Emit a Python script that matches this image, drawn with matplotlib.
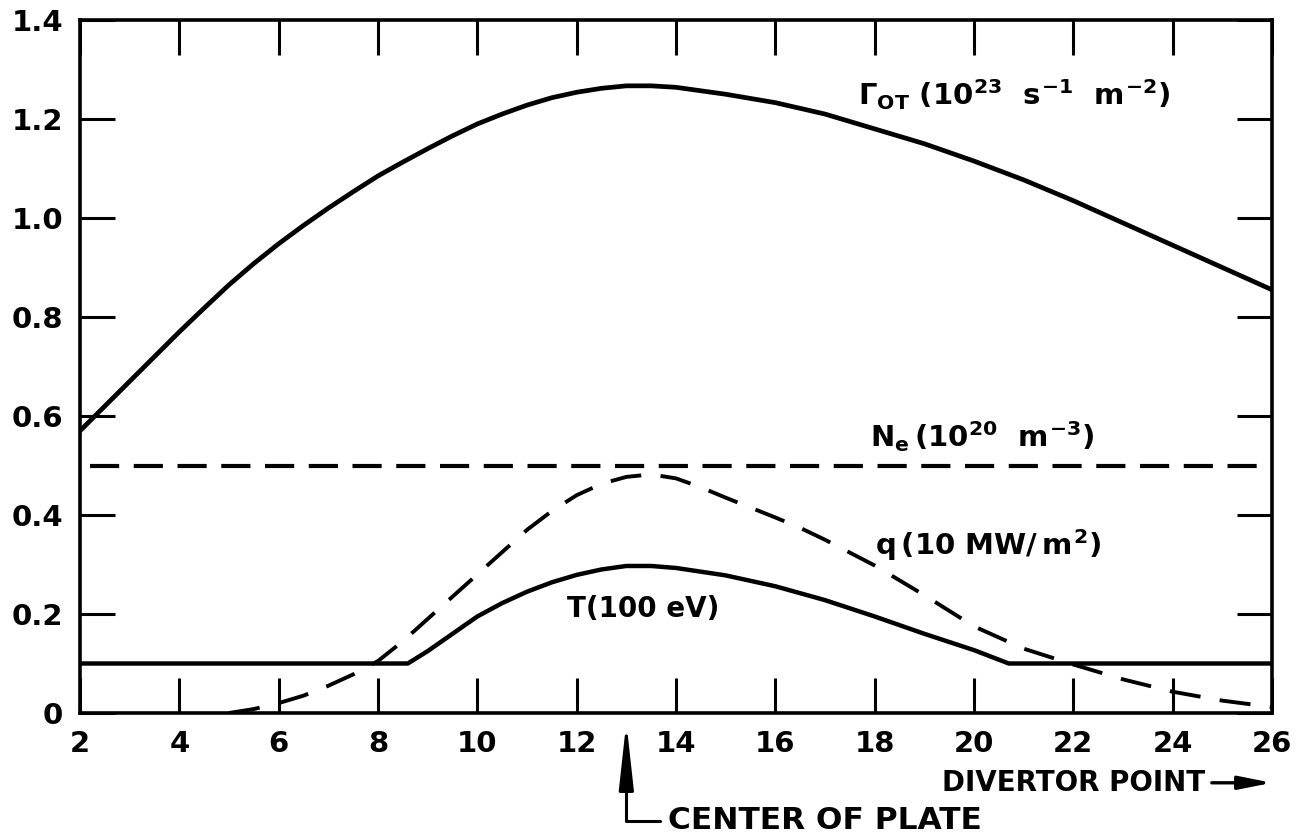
import matplotlib
matplotlib.use('Agg')
import matplotlib.pyplot as plt

# Donnees
x_gamma = [2, 2.5, 3, 3.5, 4, 4.5, 5, 5.5, 6, 6.5, 7, 7.5, 8, 8.5, 9, 9.5, 10, 10.5, 11, 11.5, 12,
           12.5, 13, 13.5, 14, 15, 16, 17, 18, 19, 20, 21, 22, 23, 24, 25, 26]
gamma = [0.57, 0.62, 0.67, 0.72, 0.77, 0.818, 0.865, 0.908, 0.948, 0.985, 1.02, 1.053, 1.085,
         1.113, 1.14, 1.166, 1.19, 1.21, 1.228, 1.243, 1.254, 1.262, 1.267, 1.267, 1.264, 1.25,
         1.233, 1.21, 1.18, 1.15, 1.115, 1.077, 1.035, 0.99, 0.945, 0.9, 0.855]

x_ne = [2.2, 26]
ne = [0.5, 0.5]

x_q = [5, 5.5, 6, 6.5, 7, 7.5, 8, 8.5, 9, 9.5, 10, 10.5, 11, 11.5, 12, 12.5, 13, 13.5, 14, 14.5,
       15, 16, 16.5, 17, 18, 19, 20, 21, 22, 23, 24, 25, 26]
q = [0.0, 0.008, 0.02, 0.035, 0.055, 0.078, 0.105, 0.145, 0.19, 0.235, 0.28, 0.325, 0.37, 0.408,
     0.44, 0.463, 0.477, 0.482, 0.474, 0.456, 0.435, 0.395, 0.374, 0.35, 0.298, 0.238, 0.175,
     0.13, 0.098, 0.068, 0.043, 0.025, 0.012]

x_t = [2, 8.6, 9, 9.5, 10, 10.5, 11, 11.5, 12, 12.5, 13, 13.5, 14, 15, 16, 17, 18, 19, 20, 20.7, 26]
t = [0.1, 0.1, 0.125, 0.16, 0.195, 0.222, 0.245, 0.264, 0.279, 0.29, 0.297, 0.297, 0.293, 0.278,
     0.256, 0.228, 0.195, 0.16, 0.127, 0.1, 0.1]

x_ticks = [2, 4, 6, 8, 10, 12, 14, 16, 18, 20, 22, 24, 26]
x_labels = ['2', '4', '6', '8', '10', '12', '14', '16', '18', '20', '22', '24', '26']
y_ticks = [0, 0.2, 0.4, 0.6, 0.8, 1.0, 1.2, 1.4]
y_labels = ['0', '0.2', '0.4', '0.6', '0.8', '1.0', '1.2', '1.4']

plt.rcParams['font.family'] = ['DejaVu Sans']
plt.rcParams['font.weight'] = 'bold'
plt.rcParams['mathtext.fontset'] = 'custom'
plt.rcParams['mathtext.rm'] = 'DejaVu Sans:bold'
plt.rcParams['mathtext.it'] = 'DejaVu Sans:bold'
plt.rcParams['mathtext.bf'] = 'DejaVu Sans:bold'

fig = plt.figure(figsize=(12.96, 8.34), dpi=100)
ax = fig.add_axes([80 / 1296, 121 / 834, 1192 / 1296, 693 / 834])

ax.plot(x_gamma, gamma, c='black', lw=3.4)
ax.plot(x_ne, ne, c='black', lw=3.0, dashes=(7, 3.5))
ax.plot(x_q, q, c='black', lw=2.8, dashes=(8, 5))
ax.plot(x_t, t, c='black', lw=3.2)

ax.set_xlim(2, 26)
ax.set_ylim(0, 1.4)
ax.set_xticks(x_ticks)
ax.set_xticklabels(x_labels)
ax.set_yticks(y_ticks)
ax.set_yticklabels(y_labels)
ax.tick_params(direction='in', length=25, width=2.2, top=True, right=True,
               labelsize=21, pad=12)
for s in ax.spines.values():
    s.set_linewidth(2.6)

# Intitules des courbes
ax.text(17.66, 1.228, r'$\Gamma_{OT}\ (10^{23}\ \ s^{-1}\ \ m^{-2})$', fontsize=21, va='baseline')
ax.text(17.9, 0.537, r'$N_e\,(10^{20}\ \ m^{-3})$', fontsize=21, va='baseline')
ax.text(18.0, 0.319, r'$q\,(10\ MW/\,m^2)$', fontsize=21, va='baseline')
ax.text(11.8, 0.194, 'T(100 eV)', fontsize=20, va='baseline')

# Fleches sous l'axe
ax.annotate('CENTER OF PLATE', xy=(13, -0.018), xytext=(13.84, -0.218),
            fontsize=22.5, ha='left', va='center', annotation_clip=False,
            arrowprops=dict(arrowstyle='-|>,head_length=2.0,head_width=0.22', color='black',
                            lw=2.2, mutation_scale=20, relpos=(0, 0.5), shrinkA=4, shrinkB=0,
                            connectionstyle='angle,angleA=0,angleB=90,rad=0'))
ax.annotate('DIVERTOR POINT', xy=(26, -0.141), xytext=(19.35, -0.141),
            fontsize=20, ha='left', va='center', annotation_clip=False,
            arrowprops=dict(arrowstyle='-|>,head_length=1.0,head_width=0.2', color='black',
                            lw=2.4, mutation_scale=20, relpos=(1, 0.5), shrinkA=3, shrinkB=0))

plt.savefig('out.png', dpi=100)
